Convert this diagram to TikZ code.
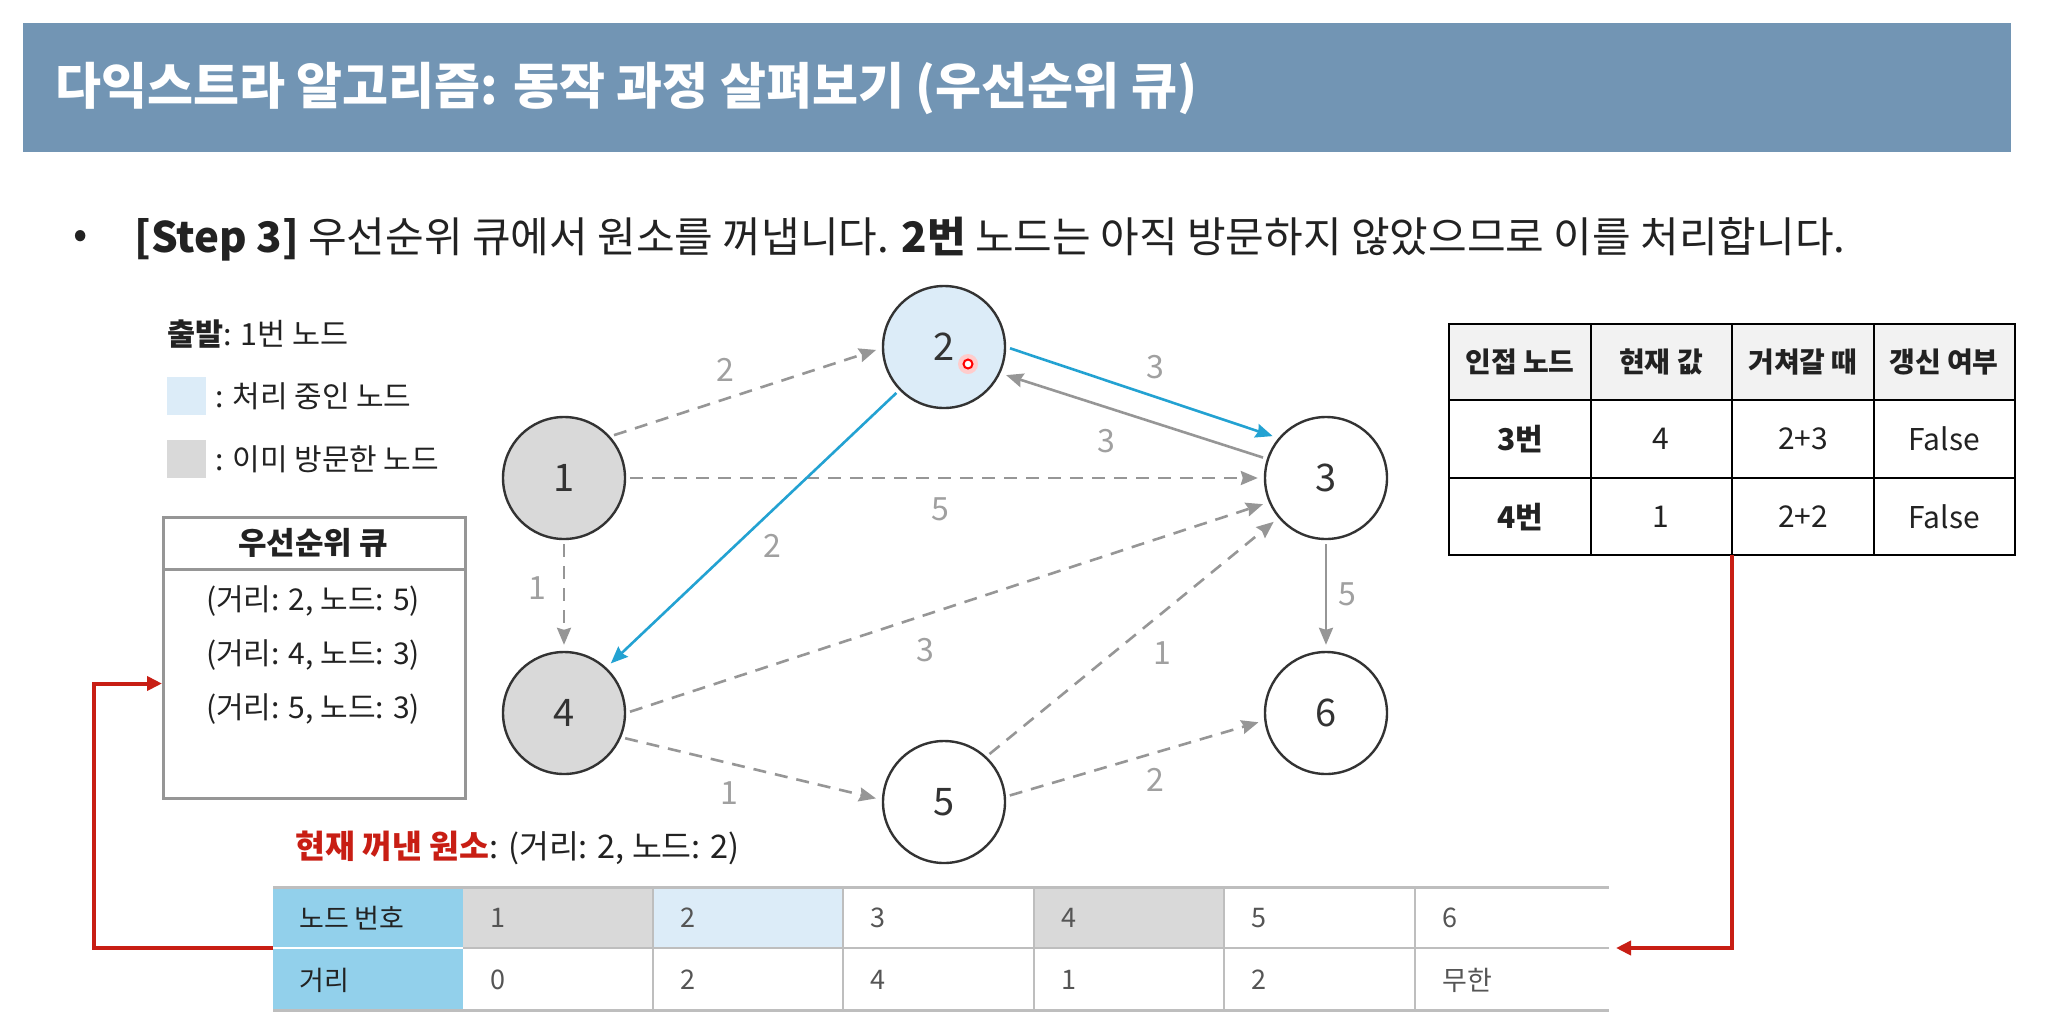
\documentclass[tikz,border=0pt]{standalone}
\usepackage{fontspec}
\setmainfont{Noto Sans CJK KR}
\usetikzlibrary{arrows.meta}
\newcommand\fsz[1]{\fontsize{#1}{#1}\selectfont}
\definecolor{barc}{RGB}{114,149,180}
\definecolor{edgegray}{RGB}{150,150,150}
\definecolor{labelgray}{RGB}{160,160,160}
\definecolor{blueline}{RGB}{35,162,210}
\definecolor{visited}{RGB}{217,217,217}
\definecolor{proc}{RGB}{220,236,248}
\definecolor{headblue}{RGB}{146,208,235}
\definecolor{tline}{RGB}{190,190,190}
\definecolor{redc}{RGB}{200,30,20}
\definecolor{txt}{RGB}{34,34,34}
\definecolor{txtg}{RGB}{85,85,85}
\begin{document}
\begin{tikzpicture}[x=1pt,y=-1pt,
  gn/.style={circle, draw=black!80, line width=2.4pt, minimum size=122pt, inner sep=0pt, font=\fsz{38}, text=black!80},
  edge/.style={draw=edgegray, line width=2.6pt, -{Stealth[length=17pt,width=14pt,inset=2pt]}, shorten <=4pt, shorten >=6pt},
  dashe/.style={edge, dash pattern=on 13pt off 9pt},
  bluee/.style={edge, draw=blueline},
  wl/.style={font=\fsz{32}, text=labelgray, inner sep=0pt},
  lt/.style={anchor=west, inner sep=0pt, text=txt},
  qt/.style={inner sep=0pt, text=txt, font=\fsz{30}},
  rt/.style={inner sep=0pt, text=txt, font=\fsz{30}},
  rth/.style={inner sep=0pt, text=txt, font=\fsz{28}\bfseries},
  bt/.style={anchor=west, inner sep=0pt, text=txtg, font=\fsz{27}},
  redarrow/.style={draw=redc, line width=4pt, -{Triangle[length=15pt,width=14pt]}},
]
\useasboundingbox (0,0) rectangle (2048,1029);
\fill[white] (0,0) rectangle (2048,1029);

% title bar
\node[fill=barc, minimum width=1988pt, minimum height=129pt, anchor=north west, inner sep=0pt] (bar) at (23,23) {};
\node[anchor=west, inner sep=0pt, text=white, font=\fsz{50}\bfseries] (title) at (55,88) {다익스트라 알고리즘: 동작 과정 살펴보기 (우선순위 큐)};

% bullet line
\node[inner sep=0pt, text=txt, font=\fsz{42}] (bul) at (81,239) {•};
\node[lt, font=\fsz{42}] (step) at (134,239) {\textbf{[Step 3]} 우선순위 큐에서 원소를 꺼냅니다. \textbf{2번} 노드는 아직 방문하지 않았으므로 이를 처리합니다.};

% legend
\node[lt, font=\fsz{30.5}] (start) at (167,334) {\textbf{출발}: 1번 노드};
\node[fill=proc, minimum width=39pt, minimum height=38pt, inner sep=0pt, anchor=north west] (lgb) at (167,377) {};
\node[fill=visited, minimum width=39pt, minimum height=38pt, inner sep=0pt, anchor=north west] (lgg) at (167,440) {};
\node[lt, font=\fsz{30}] (lgbt) at (215,396) {: 처리 중인 노드};
\node[lt, font=\fsz{30}] (lggt) at (215,459) {: 이미 방문한 노드};

% priority queue box
\node[draw=edgegray, line width=3pt, minimum width=302pt, minimum height=281pt, anchor=north west, inner sep=0pt] (qbox) at (162,516) {};
\draw[draw=edgegray, line width=3pt] (qbox.west |- 0,569) -- (qbox.east |- 0,569);
\node[qt, font=\fsz{31}\bfseries] (qh) at (313,543) {우선순위 큐};
\node[qt] (q1) at (313,601) {(거리: 2, 노드: 5)};
\node[qt] (q2) at (313,655) {(거리: 4, 노드: 3)};
\node[qt] (q3) at (313,709) {(거리: 5, 노드: 3)};
\coordinate (qin) at ([yshift=-25.5pt]qbox.west);

% graph nodes
\node[gn, fill=visited] (n1) at (564,478) {1};
\node[gn, fill=proc] (n2) at (944,347) {2};
\node[gn, fill=white] (n3) at (1326,478) {3};
\node[gn, fill=visited] (n4) at (564,713) {4};
\node[gn, fill=white] (n5) at (944,802) {5};
\node[gn, fill=white] (n6) at (1326,713) {6};

% edges
\draw[dashe] (n1.42) -- (n2.181);
\draw[bluee] (n2.0) -- (n3.140);
\draw[edge] (n3.162) -- (n2.-25);
\draw[dashe] (n1.0) -- (n3.180);
\draw[bluee] (n2.224) -- (n4.47);
\draw[dashe] (n1.-90) -- (n4.90);
\draw[dashe] (n4.0) -- (n3.203);
\draw[dashe] (n5.47) -- (n3.220);
\draw[edge] (n3.-90) -- (n6.90);
\draw[dashe] (n4.-23) -- (n5.178);
\draw[dashe] (n5.5) -- (n6.187);

% edge labels
\node[wl] (w12) at (725,370) {2};
\node[wl] (w23) at (1155,367) {3};
\node[wl] (w32) at (1106,441) {3};
\node[wl] (w13) at (940,509) {5};
\node[wl] (w24) at (772,546) {2};
\node[wl] (w14) at (537,588) {1};
\node[wl] (w43) at (925,650) {3};
\node[wl] (w53) at (1162,653) {1};
\node[wl] (w36) at (1347,594) {5};
\node[wl] (w45) at (729,793) {1};
\node[wl] (w56) at (1155,780) {2};

% pointer dot
\node[circle, fill=red!20, minimum size=20pt, inner sep=0pt] (halo) at (968,364) {};
\node[circle, draw=red, fill=white, line width=2pt, minimum size=9pt, inner sep=0pt] (dot) at (968,364) {};

% right table
\fill[black!5] (1449,324) rectangle (2015,400);
\draw[black, line width=2pt] (1449,324) rectangle (2015,555);
\draw[black, line width=2pt] (1449,400) -- (2015,400) (1449,478) -- (2015,478)
  (1591,324) -- (1591,555) (1732,324) -- (1732,555) (1874,324) -- (1874,555);
\node[rth] (h1) at (1520,362) {인접 노드};
\node[rth] (h2) at (1661,362) {현재 값};
\node[rth] (h3) at (1803,362) {거쳐갈 때};
\node[rth] (h4) at (1944,362) {갱신 여부};
\node[rt, font=\fsz{30}\bfseries] (r11) at (1520,439) {3번};
\node[rt] (r12) at (1661,439) {4};
\node[rt] (r13) at (1803,439) {2+3};
\node[rt] (r14) at (1944,439) {False};
\node[rt, font=\fsz{30}\bfseries] (r21) at (1520,517) {4번};
\node[rt] (r22) at (1661,517) {1};
\node[rt] (r23) at (1803,517) {2+2};
\node[rt] (r24) at (1944,517) {False};
\coordinate (rtb) at (1732,555);

% current element
\node[lt, font=\fsz{32.5}] (cur) at (295,848) {\textcolor{redc}{\textbf{현재 꺼낸 원소}}: (거리: 2, 노드: 2)};

% bottom table
\fill[headblue] (273,887) rectangle (463,1010);
\fill[visited] (463,887) rectangle (653,948);
\fill[proc] (653,887) rectangle (843,948);
\fill[visited] (1034,887) rectangle (1224,948);
\draw[white, line width=1.5pt] (273,948) -- (463,948);
\draw[tline, line width=1.5pt] (463,948) -- (1609,948);
\foreach \xx in {653,843,1034,1224,1415} \draw[tline, line width=1.5pt] (\xx,887) -- (\xx,1010);
\draw[tline, line width=3pt] (273,887) -- (1609,887) (273,1010) -- (1609,1010);
\node[bt, text=txt] (bh1) at (299,918) {노드 번호};
\node[bt, text=txt] (bh2) at (299,980) {거리};
\node[bt] (b11) at (490,918) {1};
\node[bt] (b12) at (680,918) {2};
\node[bt] (b13) at (870,918) {3};
\node[bt] (b14) at (1061,918) {4};
\node[bt] (b15) at (1251,918) {5};
\node[bt] (b16) at (1442,918) {6};
\node[bt] (b21) at (490,980) {0};
\node[bt] (b22) at (680,980) {2};
\node[bt] (b23) at (870,980) {4};
\node[bt] (b24) at (1061,980) {1};
\node[bt] (b25) at (1251,980) {2};
\node[bt] (b26) at (1442,980) {무한};
\coordinate (btend) at (1609,948);
\coordinate (btstart) at (273,948);

% red connectors
\draw[redarrow, shorten >=7pt] (rtb) |- (btend);
\draw[redarrow] (btstart) -- ++(-179,0) |- (qin);
\end{tikzpicture}
\end{document}
